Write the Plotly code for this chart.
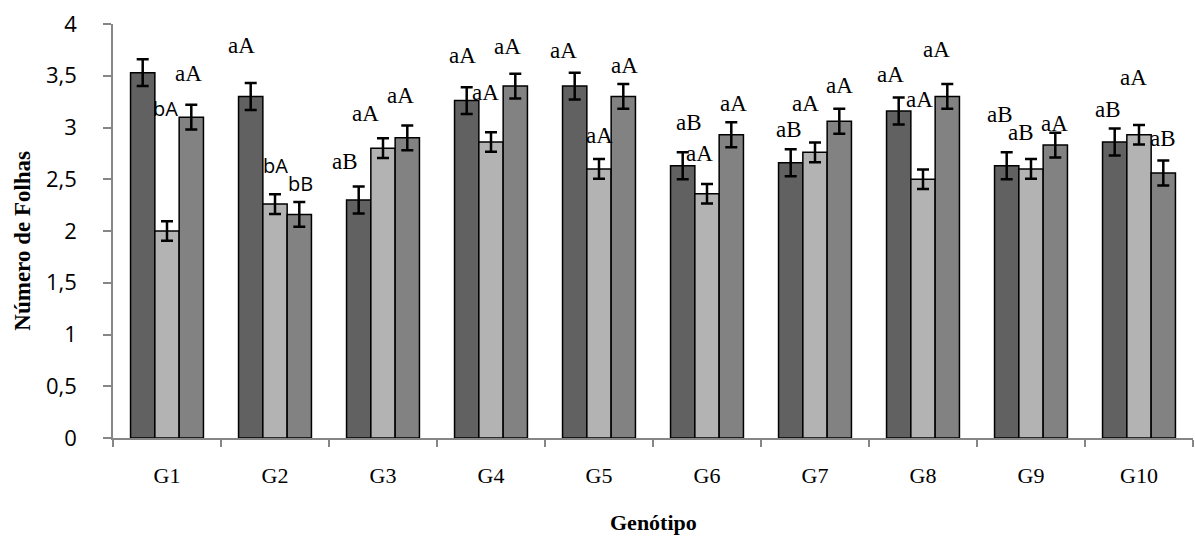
import plotly.graph_objects as go

# Genotypes and leaf counts for the three treatments
genotipos = ["G1", "G2", "G3", "G4", "G5", "G6", "G7", "G8", "G9", "G10"]

trat_1 = [3.53, 3.30, 2.30, 3.26, 3.40, 2.63, 2.66, 3.16, 2.63, 2.86]
trat_2 = [2.00, 2.26, 2.80, 2.86, 2.60, 2.36, 2.76, 2.50, 2.60, 2.93]
trat_3 = [3.10, 2.16, 2.90, 3.40, 3.30, 2.93, 3.06, 3.30, 2.83, 2.56]

erro_1 = [0.13] * 10
erro_2 = [0.095] * 10
erro_3 = [0.12] * 10

# Mean-comparison letters
letras_1 = ["aA", "aA", "aB", "aA", "aA", "aB", "aB", "aA", "aB", "aB"]
letras_2 = ["bA", "bA", "aA", "aA", "aA", "aA", "aA", "aA", "aB", "aA"]
letras_3 = ["aA", "bB", "aA", "aA", "aA", "aA", "aA", "aA", "aA", "aB"]

# Letter placement: (horizontal nudge in px, height in axis units)
pos_1 = [(0, 4.02), (-9, 3.79), (-14, 2.67), (-4, 3.70), (-11, 3.74),
         (6, 3.05), (-2, 2.98), (-8, 3.51), (-7, 3.13), (-7, 3.17)]
pos_2 = [(-2, 3.18), (0, 2.63), (-18, 3.14), (-6, 3.34), (0, 2.92),
         (-8, 2.75), (-10, 3.23), (-4, 3.27), (-10, 2.95), (-6, 3.48)]
pos_3 = [(-3, 3.52), (1, 2.46), (-7, 3.31), (-8, 3.78), (1, 3.60),
         (2, 3.23), (0, 3.41), (-11, 3.75), (-1, 3.04), (0, 2.89)]

cores = ["#616161", "#b3b3b3", "#828282"]
SERIF = "Liberation Serif, Times New Roman, serif"
SANS = "Open Sans, Liberation Sans, sans-serif"

fig = go.Figure()
for valores, erros, cor in zip([trat_1, trat_2, trat_3], [erro_1, erro_2, erro_3], cores):
    fig.add_trace(go.Bar(
        x=genotipos, y=valores,
        marker=dict(color=cor, line=dict(color="black", width=1.5)),
        error_y=dict(type="data", array=erros, visible=True,
                     color="black", thickness=2.5, width=6),
        showlegend=False,
    ))

bargap = 0.325
largura = (1 - bargap) / 3
anotacoes = []
for k, (letras, pos) in enumerate([(letras_1, pos_1), (letras_2, pos_2), (letras_3, pos_3)]):
    for i, (txt, (dx, yv)) in enumerate(zip(letras, pos)):
        sans = txt.startswith("b")
        anotacoes.append(dict(
            x=i + (k - 1) * largura, y=yv, xref="x", yref="y",
            text=txt, showarrow=False, xshift=dx,
            font=dict(family=SANS if sans else SERIF, size=20 if sans else 23, color="black"),
        ))

anotacoes.append(dict(
    text="<b>Número de Folhas</b>", textangle=-90, showarrow=False,
    xref="paper", yref="paper", x=-0.097, y=0.476,
    font=dict(family=SERIF, size=23, color="black"),
))
anotacoes.append(dict(
    text="<b>Genótipo</b>", showarrow=False,
    xref="paper", yref="paper", x=0.5, y=-0.238,
    font=dict(family=SERIF, size=22, color="black"),
))

fig.update_layout(
    width=1195, height=539,
    margin=dict(l=113, r=2, t=24, b=101),
    paper_bgcolor="white", plot_bgcolor="white",
    barmode="group", bargap=bargap, bargroupgap=0,
    separators=", ",
    annotations=anotacoes,
    xaxis=dict(
        type="category", tickson="boundaries",
        ticks="outside", ticklen=7, tickcolor="#868686", tickwidth=1.5,
        showline=True, linecolor="#868686", linewidth=2,
        showgrid=False, ticklabelstandoff=17,
        tickfont=dict(family=SERIF, size=22, color="black"),
    ),
    yaxis=dict(
        range=[0, 4], dtick=0.5, tick0=0,
        ticks="outside", ticklen=8, tickcolor="#868686", tickwidth=1.5,
        showline=True, linecolor="#868686", linewidth=1.5,
        showgrid=False, zeroline=False, ticklabelstandoff=22,
        tickfont=dict(family=SANS, size=22, color="black"),
    ),
)

fig.write_html("out.html")
